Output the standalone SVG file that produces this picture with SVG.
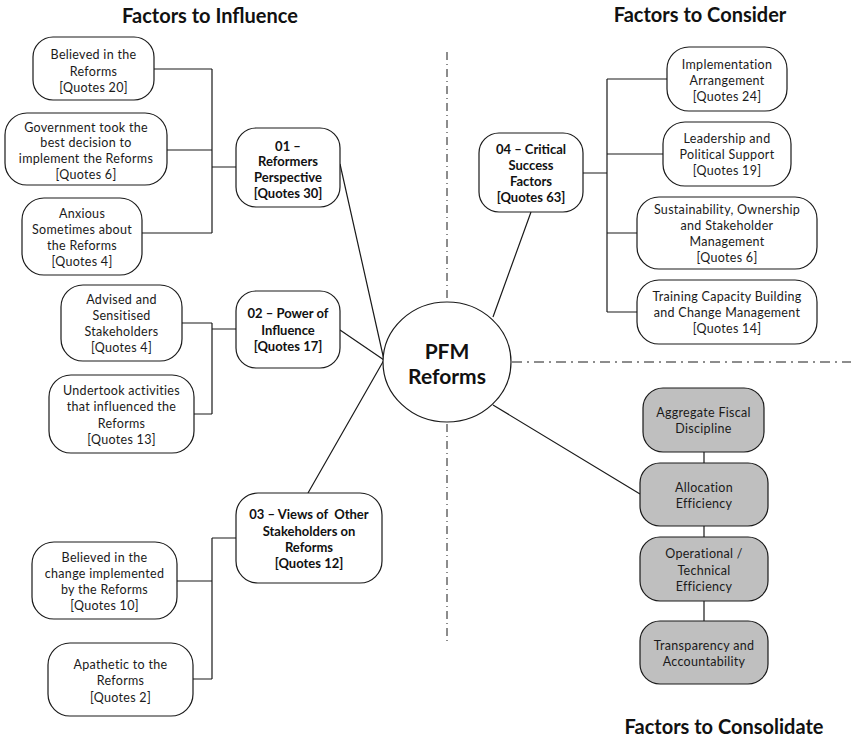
<svg xmlns="http://www.w3.org/2000/svg" width="851" height="737" viewBox="0 0 851 737">
<style>
.bx{fill:#fff;stroke:#1a1a1a;stroke-width:1.2}
.gb{fill:#bfbfbf;stroke:#1a1a1a;stroke-width:1.2}
.t{font-family:Lato,"Liberation Sans",sans-serif;font-size:12.5px;fill:#1a1a1a;text-anchor:middle;dominant-baseline:central;letter-spacing:0.3px}
.b{font-family:Lato,"Liberation Sans",sans-serif;font-size:13px;font-weight:bold;fill:#111;text-anchor:middle;dominant-baseline:central}
.h{font-family:Lato,"Liberation Sans",sans-serif;font-size:20px;font-weight:bold;fill:#111;text-anchor:middle;dominant-baseline:central}
.c{fill:none;stroke:#1a1a1a;stroke-width:1.2}
.dd{fill:none;stroke:#1a1a1a;stroke-width:1}
</style>
<rect width="851" height="737" fill="#fff"/>
<text class="h" x="210" y="15">Factors to Influence</text>
<text class="h" x="700" y="14">Factors to Consider</text>
<text class="h" x="724" y="726">Factors to Consolidate</text>
<g id="dividers">
<line class="dd" x1="447" y1="52" x2="447" y2="300" stroke-dasharray="8 4 1 4"/>
<line class="dd" x1="447" y1="424" x2="447" y2="644" stroke-dasharray="8 4 1 4"/>
<line class="dd" x1="512" y1="362" x2="851" y2="362" stroke-dasharray="10 5 2 5"/>
</g>
<g id="connectors">
<path class="c" d="M154 69H212M167 150H212M142 233H212M212 69V233M212 167H236"/>
<path class="c" d="M182 323H212M194 414H212M212 323V414M212 329H236"/>
<path class="c" d="M177 581H212M193 679H212M212 538V679M212 538H236"/>
<path class="c" d="M583 173H607M607 79V312M607 79H667M607 154H663M607 233H637M607 312H637"/>
<path class="c" d="M704 452V463M704 526V537M704 601V621"/>
<path class="c" d="M340 164L384 360M340 330L384 360M308 493L384 360M531 212L493 317M493 405L640 494"/>
</g>
<g id="pfm">
<ellipse class="bx" cx="447" cy="362" rx="64" ry="60"/>
<text class="h" style="font-size:21px" x="447" y="350">PFM</text>
<text class="h" style="font-size:21px" x="447" y="375">Reforms</text>
</g>
<g id="n01">
<rect class="bx" x="236" y="128" width="104" height="79" rx="20"/>
<text class="b" x="288" y="146">01 –</text>
<text class="b" x="288" y="161">Reformers</text>
<text class="b" x="288" y="177">Perspective</text>
<text class="b" x="288" y="193">[Quotes 30]</text>
</g>
<g id="n01a">
<rect class="bx" x="33" y="37" width="121" height="63" rx="20"/>
<text class="t" x="93.5" y="54">Believed in the</text>
<text class="t" x="93.5" y="71">Reforms</text>
<text class="t" x="93.5" y="87">[Quotes 20]</text>
</g>
<g id="n01b">
<rect class="bx" x="5" y="113" width="162" height="72" rx="22"/>
<text class="t" x="86" y="127">Government took the</text>
<text class="t" x="86" y="142">best decision to</text>
<text class="t" x="86" y="158">implement the Reforms</text>
<text class="t" x="86" y="174">[Quotes 6]</text>
</g>
<g id="n01c">
<rect class="bx" x="22" y="198" width="120" height="77" rx="22"/>
<text class="t" x="82" y="213">Anxious</text>
<text class="t" x="82" y="229">Sometimes about</text>
<text class="t" x="82" y="245">the Reforms</text>
<text class="t" x="82" y="261">[Quotes 4]</text>
</g>
<g id="n02">
<rect class="bx" x="236" y="291" width="104" height="77" rx="20"/>
<text class="b" x="288" y="313">02 – Power of</text>
<text class="b" x="288" y="330">Influence</text>
<text class="b" x="288" y="346">[Quotes 17]</text>
</g>
<g id="n02a">
<rect class="bx" x="61" y="285" width="121" height="76" rx="22"/>
<text class="t" x="121.5" y="299">Advised and</text>
<text class="t" x="121.5" y="315">Sensitised</text>
<text class="t" x="121.5" y="331">Stakeholders</text>
<text class="t" x="121.5" y="347">[Quotes 4]</text>
</g>
<g id="n02b">
<rect class="bx" x="49" y="375" width="145" height="78" rx="22"/>
<text class="t" x="121.5" y="390">Undertook activities</text>
<text class="t" x="121.5" y="406">that influenced the</text>
<text class="t" x="121.5" y="423">Reforms</text>
<text class="t" x="121.5" y="439">[Quotes 13]</text>
</g>
<g id="n03">
<rect class="bx" x="236" y="493" width="146" height="90" rx="22"/>
<text class="b" x="309" y="514">03 – Views of&#160; Other</text>
<text class="b" x="309" y="531">Stakeholders on</text>
<text class="b" x="309" y="547">Reforms</text>
<text class="b" x="309" y="563">[Quotes 12]</text>
</g>
<g id="n03a">
<rect class="bx" x="32" y="542" width="145" height="77" rx="22"/>
<text class="t" x="104.5" y="557">Believed in the</text>
<text class="t" x="104.5" y="573">change implemented</text>
<text class="t" x="104.5" y="589">by the Reforms</text>
<text class="t" x="104.5" y="605">[Quotes 10]</text>
</g>
<g id="n03b">
<rect class="bx" x="48" y="643" width="145" height="73" rx="22"/>
<text class="t" x="120.5" y="664">Apathetic to the</text>
<text class="t" x="120.5" y="680">Reforms</text>
<text class="t" x="120.5" y="697">[Quotes 2]</text>
</g>
<g id="n04">
<rect class="bx" x="479" y="133" width="104" height="79" rx="20"/>
<text class="b" x="531" y="149">04 – Critical</text>
<text class="b" x="531" y="165">Success</text>
<text class="b" x="531" y="181">Factors</text>
<text class="b" x="531" y="197">[Quotes 63]</text>
</g>
<g id="n04a">
<rect class="bx" x="667" y="47" width="120" height="64" rx="22"/>
<text class="t" x="727" y="64">Implementation</text>
<text class="t" x="727" y="80">Arrangement</text>
<text class="t" x="727" y="96">[Quotes 24]</text>
</g>
<g id="n04b">
<rect class="bx" x="663" y="122" width="128" height="64" rx="22"/>
<text class="t" x="727" y="138">Leadership and</text>
<text class="t" x="727" y="154">Political Support</text>
<text class="t" x="727" y="170">[Quotes 19]</text>
</g>
<g id="n04c">
<rect class="bx" x="637" y="197" width="180" height="72" rx="22"/>
<text class="t" x="727" y="209">Sustainability, Ownership</text>
<text class="t" x="727" y="225">and Stakeholder</text>
<text class="t" x="727" y="241">Management</text>
<text class="t" x="727" y="257">[Quotes 6]</text>
</g>
<g id="n04d">
<rect class="bx" x="637" y="280" width="180" height="64" rx="22"/>
<text class="t" x="727" y="296">Training Capacity Building</text>
<text class="t" x="727" y="312">and Change Management</text>
<text class="t" x="727" y="328">[Quotes 14]</text>
</g>
<g id="c1">
<rect class="gb" x="643" y="388" width="121" height="64" rx="20"/>
<text class="t" x="703.5" y="412">Aggregate Fiscal</text>
<text class="t" x="703.5" y="428">Discipline</text>
</g>
<g id="c2">
<rect class="gb" x="640" y="463" width="128" height="63" rx="20"/>
<text class="t" x="704" y="487">Allocation</text>
<text class="t" x="704" y="503">Efficiency</text>
</g>
<g id="c3">
<rect class="gb" x="640" y="537" width="128" height="64" rx="20"/>
<text class="t" x="704" y="553">Operational /</text>
<text class="t" x="704" y="570">Technical</text>
<text class="t" x="704" y="586">Efficiency</text>
</g>
<g id="c4">
<rect class="gb" x="640" y="621" width="128" height="63" rx="20"/>
<text class="t" x="704" y="645">Transparency and</text>
<text class="t" x="704" y="661">Accountability</text>
</g>
</svg>
